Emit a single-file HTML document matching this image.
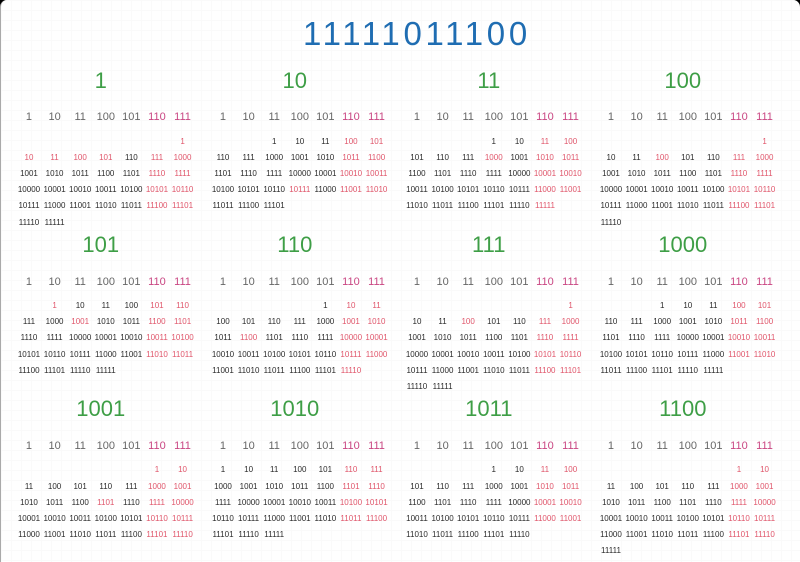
<!DOCTYPE html>
<html><head><meta charset="utf-8">
<style>
html,body{margin:0;padding:0;background:#000;}
body{width:800px;height:562px;overflow:hidden;position:relative;font-family:"Liberation Sans",Arial,sans-serif;}
.card{position:absolute;left:0;top:0;width:800px;height:562px;background:#fff;border-radius:7px 7px 0 0;box-sizing:border-box;border-left:1px solid #aaa;
background-image:linear-gradient(#fafafa 1px,transparent 1px),linear-gradient(90deg,#fafafa 1px,transparent 1px);background-size:10px 10px;}
.yt{position:absolute;left:302px;top:16.9px;font-size:33px;line-height:33px;letter-spacing:3.7px;color:#1f6db2;white-space:nowrap;}
.m{position:absolute;width:179.2px;height:164px;}
.t{position:absolute;top:69.5px;left:0;width:179.2px;text-align:center;padding-right:10px;box-sizing:border-box;font-size:22px;line-height:22px;color:#3e9e46;}
.h{position:absolute;top:109.2px;left:0;display:flex;font-size:11px;line-height:16px;color:#666;}
.h i{width:25.6px;text-align:center;font-style:normal;white-space:nowrap;}
.h i.r{color:#c94682;}
.d{position:absolute;top:133.6px;left:0;}
.w{display:flex;height:16.2px;line-height:16.2px;font-size:8px;color:#2a2a2a;}
.w i{width:25.6px;text-align:center;font-style:normal;white-space:nowrap;}
.w i.r{color:#e0566b;}
</style></head><body>
<div class="card">
<div class="yt">11111011100</div>

<!-- Month 1 -->
<div class="m" style="left:15.2px;top:0px">
<div class="t">1</div>
<div class="h"><i>1</i><i>10</i><i>11</i><i>100</i><i>101</i><i class="r">110</i><i class="r">111</i></div>
<div class="d">
<div class="w"><i></i><i></i><i></i><i></i><i></i><i></i><i class="r">1</i></div>
<div class="w"><i class="r">10</i><i class="r">11</i><i class="r">100</i><i class="r">101</i><i>110</i><i class="r">111</i><i class="r">1000</i></div>
<div class="w"><i>1001</i><i>1010</i><i>1011</i><i>1100</i><i>1101</i><i class="r">1110</i><i class="r">1111</i></div>
<div class="w"><i>10000</i><i>10001</i><i>10010</i><i>10011</i><i>10100</i><i class="r">10101</i><i class="r">10110</i></div>
<div class="w"><i>10111</i><i>11000</i><i>11001</i><i>11010</i><i>11011</i><i class="r">11100</i><i class="r">11101</i></div>
<div class="w"><i>11110</i><i>11111</i></div>
</div></div>

<!-- Month 2 -->
<div class="m" style="left:209.2px;top:0px">
<div class="t">10</div>
<div class="h"><i>1</i><i>10</i><i>11</i><i>100</i><i>101</i><i class="r">110</i><i class="r">111</i></div>
<div class="d">
<div class="w"><i></i><i></i><i>1</i><i>10</i><i>11</i><i class="r">100</i><i class="r">101</i></div>
<div class="w"><i>110</i><i>111</i><i>1000</i><i>1001</i><i>1010</i><i class="r">1011</i><i class="r">1100</i></div>
<div class="w"><i>1101</i><i>1110</i><i>1111</i><i>10000</i><i>10001</i><i class="r">10010</i><i class="r">10011</i></div>
<div class="w"><i>10100</i><i>10101</i><i>10110</i><i class="r">10111</i><i>11000</i><i class="r">11001</i><i class="r">11010</i></div>
<div class="w"><i>11011</i><i>11100</i><i>11101</i></div>
</div></div>

<!-- Month 3 -->
<div class="m" style="left:403.2px;top:0px">
<div class="t">11</div>
<div class="h"><i>1</i><i>10</i><i>11</i><i>100</i><i>101</i><i class="r">110</i><i class="r">111</i></div>
<div class="d">
<div class="w"><i></i><i></i><i></i><i>1</i><i>10</i><i class="r">11</i><i class="r">100</i></div>
<div class="w"><i>101</i><i>110</i><i>111</i><i class="r">1000</i><i>1001</i><i class="r">1010</i><i class="r">1011</i></div>
<div class="w"><i>1100</i><i>1101</i><i>1110</i><i>1111</i><i>10000</i><i class="r">10001</i><i class="r">10010</i></div>
<div class="w"><i>10011</i><i>10100</i><i>10101</i><i>10110</i><i>10111</i><i class="r">11000</i><i class="r">11001</i></div>
<div class="w"><i>11010</i><i>11011</i><i>11100</i><i>11101</i><i>11110</i><i class="r">11111</i></div>
</div></div>

<!-- Month 4 -->
<div class="m" style="left:597.2px;top:0px">
<div class="t">100</div>
<div class="h"><i>1</i><i>10</i><i>11</i><i>100</i><i>101</i><i class="r">110</i><i class="r">111</i></div>
<div class="d">
<div class="w"><i></i><i></i><i></i><i></i><i></i><i></i><i class="r">1</i></div>
<div class="w"><i>10</i><i>11</i><i class="r">100</i><i>101</i><i>110</i><i class="r">111</i><i class="r">1000</i></div>
<div class="w"><i>1001</i><i>1010</i><i>1011</i><i>1100</i><i>1101</i><i class="r">1110</i><i class="r">1111</i></div>
<div class="w"><i>10000</i><i>10001</i><i>10010</i><i>10011</i><i>10100</i><i class="r">10101</i><i class="r">10110</i></div>
<div class="w"><i>10111</i><i>11000</i><i>11001</i><i>11010</i><i>11011</i><i class="r">11100</i><i class="r">11101</i></div>
<div class="w"><i>11110</i></div>
</div></div>

<!-- Month 5 -->
<div class="m" style="left:15.2px;top:164.4px">
<div class="t">101</div>
<div class="h"><i>1</i><i>10</i><i>11</i><i>100</i><i>101</i><i class="r">110</i><i class="r">111</i></div>
<div class="d">
<div class="w"><i></i><i class="r">1</i><i>10</i><i>11</i><i>100</i><i class="r">101</i><i class="r">110</i></div>
<div class="w"><i>111</i><i>1000</i><i class="r">1001</i><i>1010</i><i>1011</i><i class="r">1100</i><i class="r">1101</i></div>
<div class="w"><i>1110</i><i>1111</i><i>10000</i><i>10001</i><i>10010</i><i class="r">10011</i><i class="r">10100</i></div>
<div class="w"><i>10101</i><i>10110</i><i>10111</i><i>11000</i><i>11001</i><i class="r">11010</i><i class="r">11011</i></div>
<div class="w"><i>11100</i><i>11101</i><i>11110</i><i>11111</i></div>
</div></div>

<!-- Month 6 -->
<div class="m" style="left:209.2px;top:164.4px">
<div class="t">110</div>
<div class="h"><i>1</i><i>10</i><i>11</i><i>100</i><i>101</i><i class="r">110</i><i class="r">111</i></div>
<div class="d">
<div class="w"><i></i><i></i><i></i><i></i><i>1</i><i class="r">10</i><i class="r">11</i></div>
<div class="w"><i>100</i><i>101</i><i>110</i><i>111</i><i>1000</i><i class="r">1001</i><i class="r">1010</i></div>
<div class="w"><i>1011</i><i class="r">1100</i><i>1101</i><i>1110</i><i>1111</i><i class="r">10000</i><i class="r">10001</i></div>
<div class="w"><i>10010</i><i>10011</i><i>10100</i><i>10101</i><i>10110</i><i class="r">10111</i><i class="r">11000</i></div>
<div class="w"><i>11001</i><i>11010</i><i>11011</i><i>11100</i><i>11101</i><i class="r">11110</i></div>
</div></div>

<!-- Month 7 -->
<div class="m" style="left:403.2px;top:164.4px">
<div class="t">111</div>
<div class="h"><i>1</i><i>10</i><i>11</i><i>100</i><i>101</i><i class="r">110</i><i class="r">111</i></div>
<div class="d">
<div class="w"><i></i><i></i><i></i><i></i><i></i><i></i><i class="r">1</i></div>
<div class="w"><i>10</i><i>11</i><i class="r">100</i><i>101</i><i>110</i><i class="r">111</i><i class="r">1000</i></div>
<div class="w"><i>1001</i><i>1010</i><i>1011</i><i>1100</i><i>1101</i><i class="r">1110</i><i class="r">1111</i></div>
<div class="w"><i>10000</i><i>10001</i><i>10010</i><i>10011</i><i>10100</i><i class="r">10101</i><i class="r">10110</i></div>
<div class="w"><i>10111</i><i>11000</i><i>11001</i><i>11010</i><i>11011</i><i class="r">11100</i><i class="r">11101</i></div>
<div class="w"><i>11110</i><i>11111</i></div>
</div></div>

<!-- Month 8 -->
<div class="m" style="left:597.2px;top:164.4px">
<div class="t">1000</div>
<div class="h"><i>1</i><i>10</i><i>11</i><i>100</i><i>101</i><i class="r">110</i><i class="r">111</i></div>
<div class="d">
<div class="w"><i></i><i></i><i>1</i><i>10</i><i>11</i><i class="r">100</i><i class="r">101</i></div>
<div class="w"><i>110</i><i>111</i><i>1000</i><i>1001</i><i>1010</i><i class="r">1011</i><i class="r">1100</i></div>
<div class="w"><i>1101</i><i>1110</i><i>1111</i><i>10000</i><i>10001</i><i class="r">10010</i><i class="r">10011</i></div>
<div class="w"><i>10100</i><i>10101</i><i>10110</i><i>10111</i><i>11000</i><i class="r">11001</i><i class="r">11010</i></div>
<div class="w"><i>11011</i><i>11100</i><i>11101</i><i>11110</i><i>11111</i></div>
</div></div>

<!-- Month 9 -->
<div class="m" style="left:15.2px;top:328.8px">
<div class="t">1001</div>
<div class="h"><i>1</i><i>10</i><i>11</i><i>100</i><i>101</i><i class="r">110</i><i class="r">111</i></div>
<div class="d">
<div class="w"><i></i><i></i><i></i><i></i><i></i><i class="r">1</i><i class="r">10</i></div>
<div class="w"><i>11</i><i>100</i><i>101</i><i>110</i><i>111</i><i class="r">1000</i><i class="r">1001</i></div>
<div class="w"><i>1010</i><i>1011</i><i>1100</i><i class="r">1101</i><i>1110</i><i class="r">1111</i><i class="r">10000</i></div>
<div class="w"><i>10001</i><i>10010</i><i>10011</i><i>10100</i><i>10101</i><i class="r">10110</i><i class="r">10111</i></div>
<div class="w"><i>11000</i><i>11001</i><i>11010</i><i>11011</i><i>11100</i><i class="r">11101</i><i class="r">11110</i></div>
</div></div>

<!-- Month 10 -->
<div class="m" style="left:209.2px;top:328.8px">
<div class="t">1010</div>
<div class="h"><i>1</i><i>10</i><i>11</i><i>100</i><i>101</i><i class="r">110</i><i class="r">111</i></div>
<div class="d">
<div class="w"><i>1</i><i>10</i><i>11</i><i>100</i><i>101</i><i class="r">110</i><i class="r">111</i></div>
<div class="w"><i>1000</i><i>1001</i><i>1010</i><i>1011</i><i>1100</i><i class="r">1101</i><i class="r">1110</i></div>
<div class="w"><i>1111</i><i>10000</i><i>10001</i><i>10010</i><i>10011</i><i class="r">10100</i><i class="r">10101</i></div>
<div class="w"><i>10110</i><i>10111</i><i>11000</i><i>11001</i><i>11010</i><i class="r">11011</i><i class="r">11100</i></div>
<div class="w"><i>11101</i><i>11110</i><i>11111</i></div>
</div></div>

<!-- Month 11 -->
<div class="m" style="left:403.2px;top:328.8px">
<div class="t">1011</div>
<div class="h"><i>1</i><i>10</i><i>11</i><i>100</i><i>101</i><i class="r">110</i><i class="r">111</i></div>
<div class="d">
<div class="w"><i></i><i></i><i></i><i>1</i><i>10</i><i class="r">11</i><i class="r">100</i></div>
<div class="w"><i>101</i><i>110</i><i>111</i><i>1000</i><i>1001</i><i class="r">1010</i><i class="r">1011</i></div>
<div class="w"><i>1100</i><i>1101</i><i>1110</i><i>1111</i><i>10000</i><i class="r">10001</i><i class="r">10010</i></div>
<div class="w"><i>10011</i><i>10100</i><i>10101</i><i>10110</i><i>10111</i><i class="r">11000</i><i class="r">11001</i></div>
<div class="w"><i>11010</i><i>11011</i><i>11100</i><i>11101</i><i>11110</i></div>
</div></div>

<!-- Month 12 -->
<div class="m" style="left:597.2px;top:328.8px">
<div class="t">1100</div>
<div class="h"><i>1</i><i>10</i><i>11</i><i>100</i><i>101</i><i class="r">110</i><i class="r">111</i></div>
<div class="d">
<div class="w"><i></i><i></i><i></i><i></i><i></i><i class="r">1</i><i class="r">10</i></div>
<div class="w"><i>11</i><i>100</i><i>101</i><i>110</i><i>111</i><i class="r">1000</i><i class="r">1001</i></div>
<div class="w"><i>1010</i><i>1011</i><i>1100</i><i>1101</i><i>1110</i><i class="r">1111</i><i class="r">10000</i></div>
<div class="w"><i>10001</i><i>10010</i><i>10011</i><i>10100</i><i>10101</i><i class="r">10110</i><i class="r">10111</i></div>
<div class="w"><i>11000</i><i>11001</i><i>11010</i><i>11011</i><i>11100</i><i class="r">11101</i><i class="r">11110</i></div>
<div class="w"><i>11111</i></div>
</div></div>

</div>
</body></html>
